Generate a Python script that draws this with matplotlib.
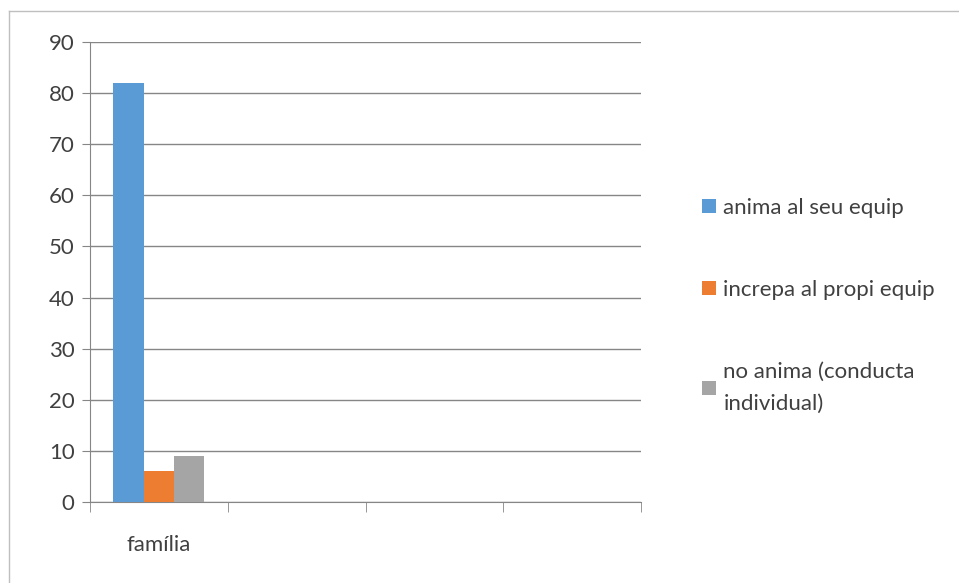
import matplotlib.pyplot as plt
import numpy as np
from matplotlib.lines import Line2D

categories = ['família', '', '', '']
series = ['anima al seu equip', 'increpa al propi equip', 'no anima (conducta\nindividual)']
values = [[82], [6], [9]]
colors = ['#5B9BD5', '#ED7D31', '#A5A5A5']

plt.rcParams['font.family'] = ['Lato', 'DejaVu Sans']

fig = plt.figure(figsize=(9.59, 5.83), dpi=100)
ax = fig.add_axes([90 / 959, 1 - 502 / 583, 551 / 959, 460 / 583])

w = 0.22
for i, (name, vals) in enumerate(zip(series, values)):
    x = np.arange(len(vals)) + (i - 1) * w
    ax.bar(x, vals, width=w, color=colors[i], label=name, zorder=3)

ax.set_xlim(-0.5, len(categories) - 0.5)
ax.set_ylim(0, 90)
ax.set_yticks(range(0, 91, 10))
ax.set_xticks(np.arange(len(categories)))
ax.set_xticklabels(categories)
ax.tick_params(axis='x', length=0, pad=24, labelsize=16, labelcolor='#404040')
ax.tick_params(axis='y', length=6, color='#868686', pad=5, labelsize=16, labelcolor='#404040')
# category boundary ticks
ax.set_xticks(np.arange(len(categories) + 1) - 0.5, minor=True)
ax.tick_params(axis='x', which='minor', length=7, color='#868686')

ax.grid(axis='y', color='#868686', linewidth=1, zorder=0)
for s in ['top', 'right']:
    ax.spines[s].set_visible(False)
for s in ['left', 'bottom']:
    ax.spines[s].set_color('#868686')

leg = ax.legend(loc='upper left', bbox_to_anchor=(1.075, 0.705), frameon=False,
                handlelength=0.6, handleheight=0.6, handletextpad=0.35,
                labelspacing=2.8, fontsize=16)
for t in leg.get_texts():
    t.set_color('#404040')
    t.set_linespacing(1.75)

# outer chart frame
fig.add_artist(Line2D([9 / 959, 9 / 959], [0, 1 - 11 / 583], color='#BFBFBF', lw=1))
fig.add_artist(Line2D([9 / 959, 1], [1 - 11 / 583, 1 - 11 / 583], color='#BFBFBF', lw=1))

fig.savefig('out.png', dpi=100)
